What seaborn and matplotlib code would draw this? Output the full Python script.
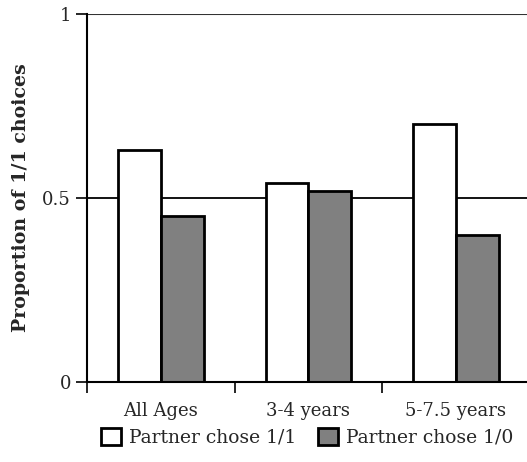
import matplotlib.pyplot as plt
import seaborn as sns
import pandas as pd

# data
groups = ["All Ages", "3-4 years", "5-7.5 years"]
series = ["Partner chose 1/1", "Partner chose 1/0"]
chose_11 = [0.63, 0.54, 0.70]
chose_10 = [0.45, 0.52, 0.40]
colors = ["white", "#808080"]

df = pd.DataFrame({
    "group": groups * 2,
    "value": chose_11 + chose_10,
    "series": [series[0]] * len(groups) + [series[1]] * len(groups),
})

sns.set_style("white")
plt.rcParams["font.family"] = ["DejaVu Serif"]

fig = plt.figure(figsize=(5.27, 4.62), dpi=100)
ax = fig.add_axes([0.165, 0.173, 0.84, 0.797])

ax.axhline(0.5, color="black", lw=1.3, zorder=0)
ax.axhline(1.0, color="#333333", lw=1.5, zorder=0)

sns.barplot(data=df, x="group", y="value", hue="series", palette=colors,
            saturation=1, edgecolor="black", linewidth=2.0, width=0.58,
            ax=ax, zorder=2)

ax.set_ylim(0, 1)
ax.set_xlim(-0.5, 2.5)
ax.set_yticks([0, 0.5, 1])
ax.set_yticklabels(["0", "0.5", "1"])
ax.set_xticks(range(len(groups)))
ax.set_xticklabels(groups)
ax.set_xticks([-0.5, 0.5, 1.5, 2.5], minor=True)
ax.tick_params(axis="x", which="major", length=0, pad=14, labelsize=13)
ax.tick_params(axis="x", which="minor", length=8, width=1.4, direction="out", bottom=True)
ax.tick_params(axis="y", length=8, width=1.4, direction="out", left=True, labelsize=13)

for s in ["top", "right"]:
    ax.spines[s].set_visible(False)
for s in ["left", "bottom"]:
    ax.spines[s].set_linewidth(1.5)
    ax.spines[s].set_color("black")

ax.set_xlabel("")
ax.set_ylabel("Proportion of 1/1 choices", fontweight="bold", fontsize=13.7, labelpad=9)

handles, labels = ax.get_legend_handles_labels()
ax.legend_.remove()
fig.legend(handles, labels, loc="center", bbox_to_anchor=(0.583, 0.054), ncol=2,
           frameon=False, fontsize=13.5, handlelength=1.05, handleheight=1.05,
           handletextpad=0.4, columnspacing=1.2)

fig.savefig("out.png", dpi=100)
